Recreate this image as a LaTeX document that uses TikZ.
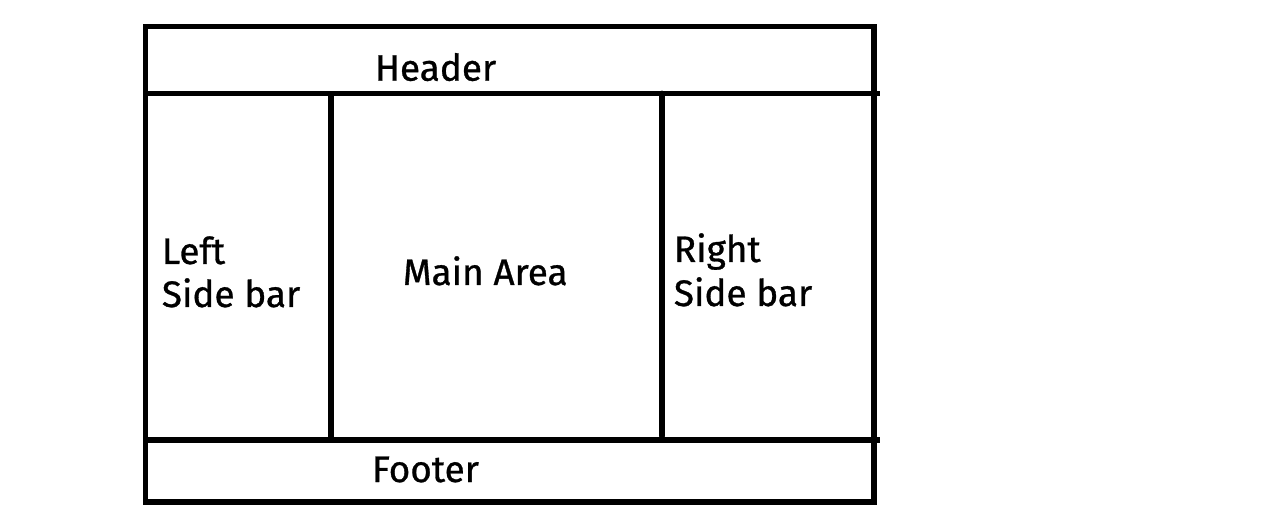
\documentclass[tikz,border=0pt]{standalone}
\usepackage{fontspec}
\setmainfont{Fira Sans}
\newfontfamily\labelfont{Fira Sans}[FakeBold=0.8]
\begin{document}
\begin{tikzpicture}[x=0.02cm,y=0.02cm,line width=3.3pt,
	label/.style={anchor=base west, inner sep=0pt, font=\labelfont\fontsize{21}{24.5}\selectfont, align=left}]
	\useasboundingbox (0,0) rectangle (1280,517);
	\draw (145.5,490.5) rectangle (874,15);
	\draw (143,423.5) -- (880,423.5);
	\draw (145,77) -- (880,77);
	\draw (331,423.5) -- (331,77);
	\draw[line cap=round] (662,423.5) -- (662,81);
	\node (head)   at (372,436.3)	[label]	{Header};
	\node (foot)   at (369,35)		[label]	{Footer};
	\node (left)   at (159,253)		[label]	{Left};
	\node (leftb)  at (159,210)		[label]	{Side bar};
	\node (main)   at (400,232)		[label]	{Main Area};
	\node (right)  at (671,255)		[label]	{Right};
	\node (rightb) at (671,211)		[label]	{Side bar};
\end{tikzpicture}
\end{document}
